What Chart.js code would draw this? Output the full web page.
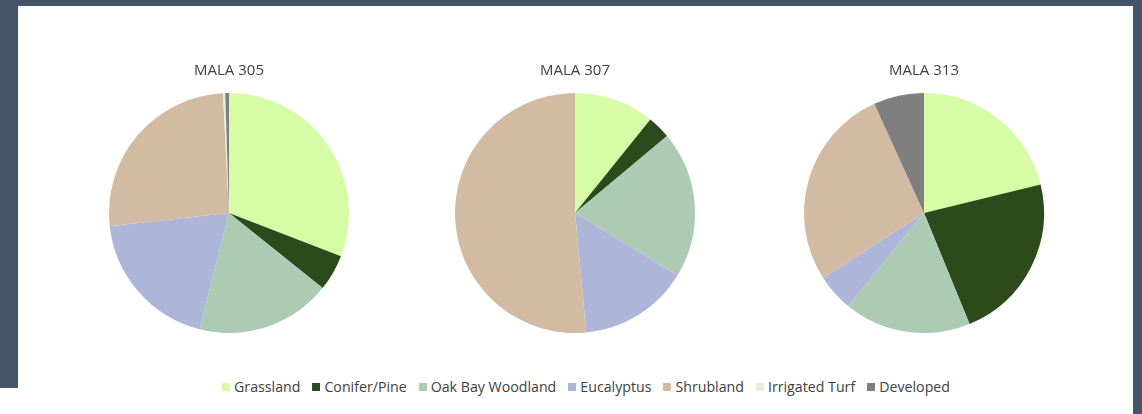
<!DOCTYPE html>
<html>
<head>
  <title>MALA land cover</title>
  <script src="https://cdn.jsdelivr.net/npm/chart.js"></script>
  <style>
    body { margin: 0; background: #44546a; width: 1142px; height: 414px; overflow: hidden; position: relative; font-family: "Open Sans", sans-serif; }
    #panel { position: absolute; left: 18px; top: 6px; width: 1115px; height: 408px; background: #fff; }
    #patch { position: absolute; left: 0; top: 388px; width: 18px; height: 26px; background: #fff; }
    .pie { position: absolute; top: 6px; width: 300px; height: 327px; }
    #legend { position: absolute; left: 586px; top: 378px; transform: translateX(-50%); display: flex; white-space: nowrap; font-size: 14.2px; color: #404040; line-height: 18px; }
    #legend span.item { display: flex; align-items: center; margin-right: 12px; }
    #legend span.item:last-child { margin-right: 0; }
    #legend span.box { width: 8px; height: 8px; margin-right: 4px; display: inline-block; }
  </style>
</head>
<body>
  <div id="panel"></div>
  <div id="patch"></div>
  <div class="pie" style="left:79px"><canvas id="pie305"></canvas></div>
  <div class="pie" style="left:425px"><canvas id="pie307"></canvas></div>
  <div class="pie" style="left:774px"><canvas id="pie313"></canvas></div>
  <div id="legend"></div>
  <script>
    // land cover classes and colours
    var categories = ['Grassland', 'Conifer/Pine', 'Oak Bay Woodland', 'Eucalyptus', 'Shrubland', 'Irrigated Turf', 'Developed'];
    var colors = ['#d6fda6', '#2d4a1c', '#adcbb2', '#adb6d8', '#d3bba3', '#e2f0d9', '#7f7f7f'];

    // percent share of each class per site
    var sites = ['MALA 305', 'MALA 307', 'MALA 313'];
    var mala305 = [30.9, 4.9, 18.2, 19.3, 26.0, 0.3, 0.5];
    var mala307 = [10.8, 3.1, 19.8, 14.8, 51.5, 0, 0];
    var mala313 = [21.2, 22.6, 17.1, 5.0, 27.3, 0, 6.8];

    var series = [mala305, mala307, mala313];
    var ids = ['pie305', 'pie307', 'pie313'];
    var charts = [];

    for (var i = 0; i < sites.length; i++) {
      var ctx = document.getElementById(ids[i]).getContext('2d');
      charts.push(new Chart(ctx, {
        type: 'pie',
        data: {
          labels: categories,
          datasets: [{
            data: series[i],
            backgroundColor: colors,
            borderWidth: 0
          }]
        },
        options: {
          responsive: true,
          maintainAspectRatio: false,
          animation: false,
          layout: { padding: 0 },
          plugins: {
            legend: { display: false },
            tooltip: { enabled: false },
            title: {
              display: true,
              text: sites[i],
              color: '#404040',
              font: { family: 'Open Sans', size: 15, weight: 'normal' },
              padding: { top: 55.5, bottom: 13.5 }
            }
          }
        }
      }));
    }

    // shared legend built from the first chart's labels
    var items = charts[0].options.plugins.legend.labels.generateLabels(charts[0]);
    var legend = document.getElementById('legend');
    items.forEach(function (it) {
      var span = document.createElement('span');
      span.className = 'item';
      var box = document.createElement('span');
      box.className = 'box';
      box.style.background = it.fillStyle;
      span.appendChild(box);
      span.appendChild(document.createTextNode(it.text));
      legend.appendChild(span);
    });
  </script>
</body>
</html>
